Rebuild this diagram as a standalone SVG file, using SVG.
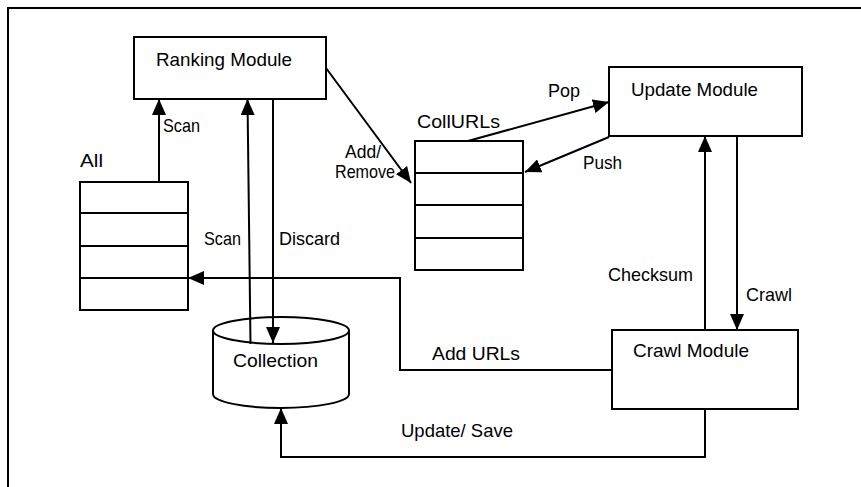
<svg xmlns="http://www.w3.org/2000/svg" width="861" height="487" viewBox="0 0 861 487">
  <style>
    .box { fill: #fff; stroke: #000; stroke-width: 2; }
    .ln { fill: none; stroke: #000; stroke-width: 2; }
    .arr { fill: none; stroke: #000; stroke-width: 2; marker-end: url(#head); }
    text { font-family: "Liberation Sans", Arial, sans-serif; font-size: 19px; fill: #000; }
  </style>
  <defs>
    <marker id="head" viewBox="0 0 16 14" refX="16" refY="7" markerWidth="16" markerHeight="14" markerUnits="userSpaceOnUse" orient="auto">
      <path d="M0,0 L16,7 L0,14 Z" fill="#000"/>
    </marker>
  </defs>

  <rect width="861" height="487" fill="#fff"/>
  <!-- frame -->
  <path class="ln" d="M861,8 H8 V487"/>

  <g id="ranking-module">
    <rect class="box" x="134" y="37" width="192" height="62"/>
    <text x="156" y="66" textLength="136" lengthAdjust="spacingAndGlyphs">Ranking Module</text>
  </g>

  <g id="all">
    <rect class="box" x="80" y="182" width="108" height="128"/>
    <path class="ln" d="M80,213 H188 M80,246 H188 M80,278 H188"/>
    <text x="80" y="167" textLength="23" lengthAdjust="spacingAndGlyphs">All</text>
  </g>

  <g id="collurls">
    <rect class="box" x="415" y="141" width="108" height="129"/>
    <path class="ln" d="M415,173 H523 M415,205 H523 M415,238 H523"/>
    <text x="417" y="128" textLength="83" lengthAdjust="spacingAndGlyphs">CollURLs</text>
  </g>

  <g id="update-module">
    <rect class="box" x="609" y="67" width="193" height="69"/>
    <text x="631" y="96" textLength="127" lengthAdjust="spacingAndGlyphs">Update Module</text>
  </g>

  <g id="crawl-module">
    <rect class="box" x="612" y="330" width="186" height="79"/>
    <text x="633" y="357" textLength="116" lengthAdjust="spacingAndGlyphs">Crawl Module</text>
  </g>

  <g id="collection">
    <path class="box" d="M213,330.5 A68,13.5 0 0 1 349,330.5 V394 A68,14 0 0 1 213,394 Z"/>
    <path class="ln" d="M213,330.5 A68,13.5 0 0 0 349,330.5"/>
    <text x="233" y="367" textLength="85" lengthAdjust="spacingAndGlyphs">Collection</text>
  </g>

  <g id="connectors">
    <path class="arr" d="M159,182 V99"/>
    <path class="arr" d="M250.5,344 L247.5,99"/>
    <path class="arr" d="M273,99 V343"/>
    <path class="arr" d="M326,68 L411,183"/>
    <path class="arr" d="M468,141 L609,102"/>
    <path class="arr" d="M609,137 L525,172"/>
    <path class="arr" d="M705,330 V136"/>
    <path class="arr" d="M737,136 V330"/>
    <path class="arr" d="M612,370 H400 V278 H188"/>
    <path class="arr" d="M705,409 V457 H281 V408"/>

    <text x="163" y="132" textLength="37" lengthAdjust="spacingAndGlyphs">Scan</text>
    <text x="204" y="245" textLength="37" lengthAdjust="spacingAndGlyphs">Scan</text>
    <text x="279" y="245" textLength="61" lengthAdjust="spacingAndGlyphs">Discard</text>
    <text x="345" y="158" font-size="16.5" textLength="36" lengthAdjust="spacingAndGlyphs">Add/</text>
    <text x="335" y="178" font-size="16.5" textLength="60" lengthAdjust="spacingAndGlyphs">Remove</text>
    <text x="548" y="97" textLength="32" lengthAdjust="spacingAndGlyphs">Pop</text>
    <text x="583" y="169" textLength="39" lengthAdjust="spacingAndGlyphs">Push</text>
    <text x="608" y="281" textLength="85" lengthAdjust="spacingAndGlyphs">Checksum</text>
    <text x="746" y="301" textLength="46" lengthAdjust="spacingAndGlyphs">Crawl</text>
    <text x="432" y="360" textLength="88" lengthAdjust="spacingAndGlyphs">Add URLs</text>
    <text x="401" y="437" textLength="112" lengthAdjust="spacingAndGlyphs">Update/ Save</text>
  </g>
</svg>
